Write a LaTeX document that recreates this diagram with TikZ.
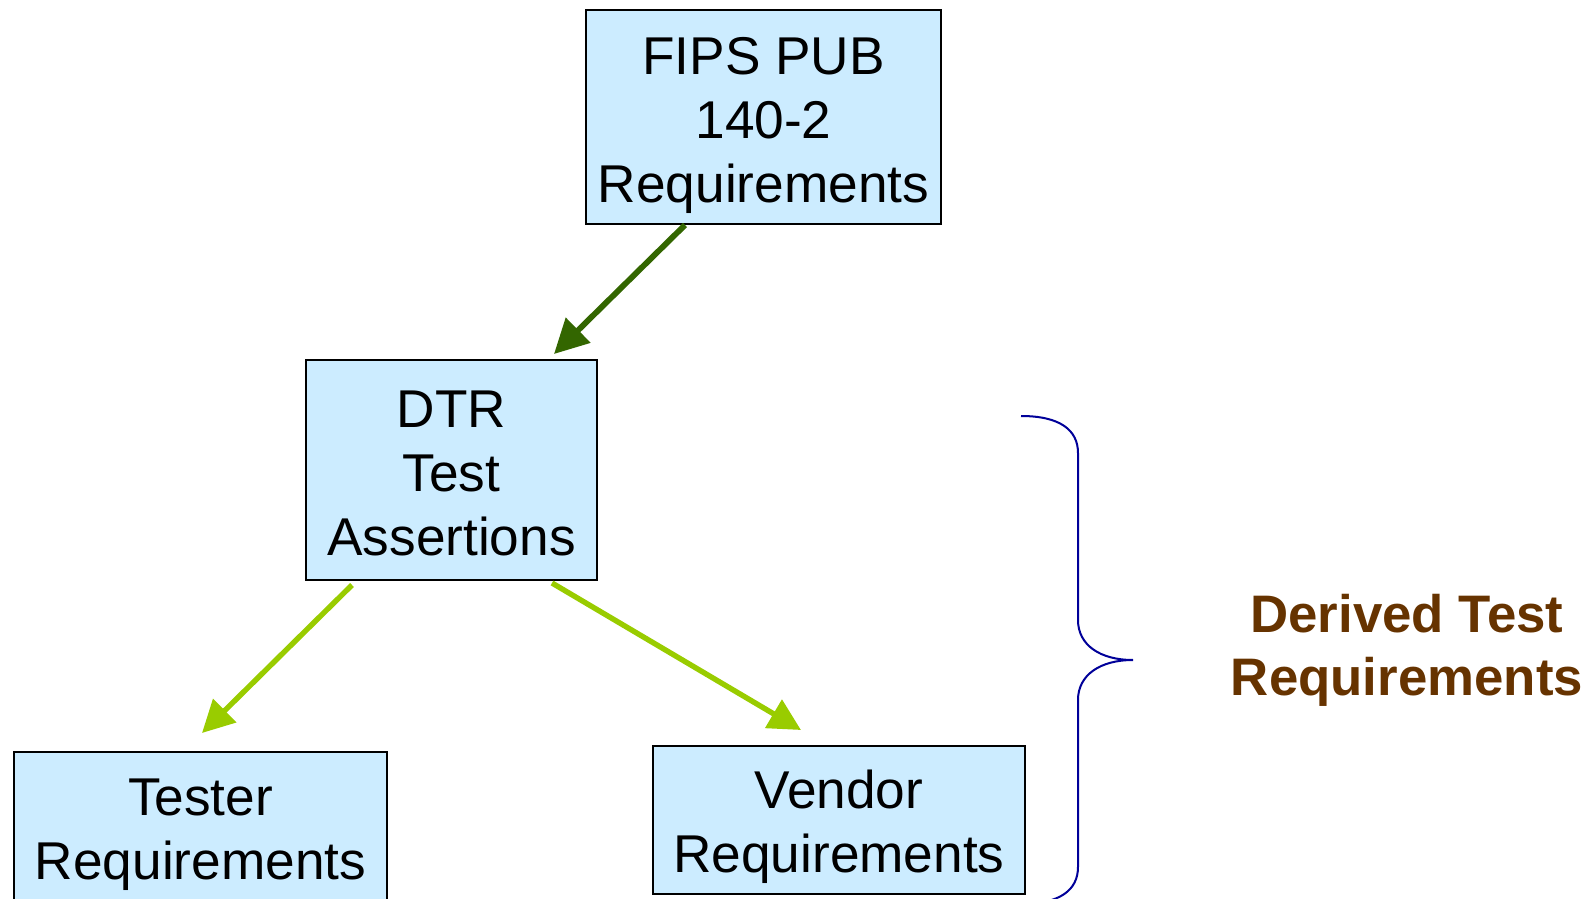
\documentclass[tikz,border=0pt]{standalone}
\usepackage{fontspec}
\setmainfont{Liberation Sans}
\usetikzlibrary{arrows.meta}
\definecolor{boxfill}{HTML}{CCECFF}
\definecolor{darkarrow}{HTML}{336600}
\definecolor{lightarrow}{HTML}{99CC00}
\definecolor{bracecol}{HTML}{000099}
\definecolor{derivedcol}{HTML}{663300}
\tikzset{
  reqbox/.style={draw=black, line width=1pt, fill=boxfill, inner sep=0pt},
  boxtext/.style={align=center, inner sep=0pt, font=\fontsize{26.6}{32}\selectfont},
  darkflow/.style={draw=darkarrow, line width=2.9pt, -{Triangle[length=17pt,width=17pt]}},
  lightflow/.style={draw=lightarrow, line width=2.7pt, -{Triangle[length=16pt,width=16pt]}},
  bracestyle/.style={draw=bracecol, line width=1pt},
  derivedtext/.style={text=derivedcol, align=center, inner sep=0pt, font=\bfseries\fontsize{26.4}{31.5}\selectfont}
}
\begin{document}
\begin{tikzpicture}[x=0.5pt,y=-0.5pt]
\useasboundingbox (0,0) rectangle (1592,899);
\clip (0,0) rectangle (1592,899);
\node[reqbox, minimum width=177.5pt, minimum height=107pt] (fips) at (763.5,117) {};
\node[boxtext] (fipstext) at ([yshift=-4pt]fips.center) {FIPS PUB\\140-2\\Requirements};
\node[reqbox, minimum width=145.5pt, minimum height=110pt] (dtr) at (451.5,470) {};
\node[boxtext] (dtrtext) at ([yshift=-1.5pt]dtr.center) {DTR\\Test\\Assertions};
\node[reqbox, minimum width=186.5pt, minimum height=76pt] (tester) at (200.5,828) {};
\node[boxtext] (testertext) at ([yshift=-3.5pt]tester.center) {Tester\\Requirements};
\node[reqbox, minimum width=186pt, minimum height=74pt] (vendor) at (839,820) {};
\node[boxtext] (vendortext) at ([yshift=-3.5pt]vendor.center) {Vendor\\Requirements};
\node[derivedtext] (derived) at (1407,650) {Derived Test\\Requirements};
\draw[darkflow] ([xshift=-39.25pt]fips.south) -- ([xshift=51.25pt,yshift=2.5pt]dtr.north);
\draw[lightflow] ([xshift=-49.75pt,yshift=-2pt]dtr.south) -- ([xshift=0.75pt,yshift=9pt]tester.north);
\draw[lightflow] ([xshift=50.25pt,yshift=-1pt]dtr.south) -- ([xshift=-19pt,yshift=7.5pt]vendor.north);
\draw[bracestyle] (1021,416) .. controls (1060,416) and (1078,430) .. (1078,453)
  -- (1078,620) .. controls (1078,645) and (1100,660) .. (1133,660)
  .. controls (1100,660) and (1078,675) .. (1078,700)
  -- (1078,867) .. controls (1078,890) and (1060,904) .. (1021,904);
\end{tikzpicture}
\end{document}
